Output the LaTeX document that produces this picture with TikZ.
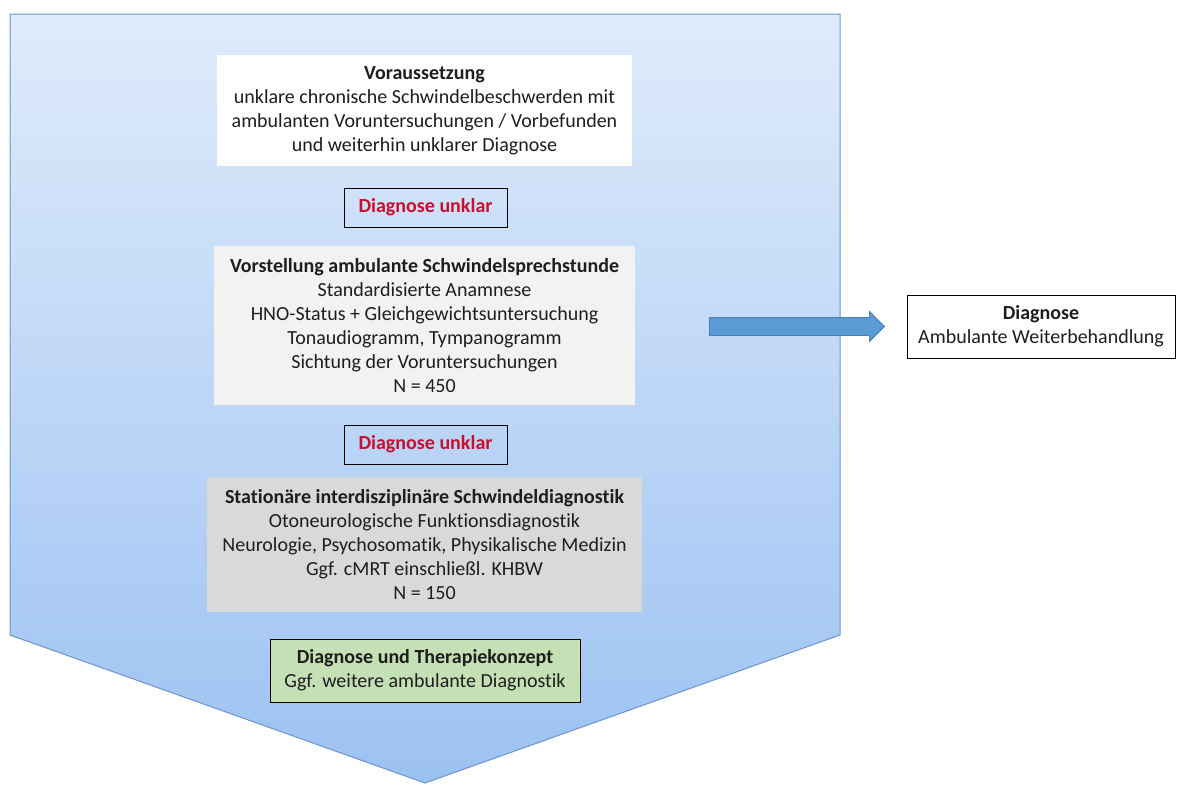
\documentclass[tikz,border=0pt]{standalone}
\usepackage{fontspec}
\setmainfont{Carlito}[Ligatures=NoCommon]
\definecolor{bgtop}{HTML}{DFEBFB}
\definecolor{bgbot}{HTML}{9CC2F2}
\definecolor{bgline}{HTML}{6F95C6}
\definecolor{txt}{HTML}{1E1E1E}
\definecolor{redtxt}{HTML}{C8102E}
\definecolor{boxgrayA}{HTML}{F2F2F2}
\definecolor{boxgrayB}{HTML}{D9D9D9}
\definecolor{boxgreen}{HTML}{C5E0B4}
\definecolor{arrowfill}{HTML}{5B9BD5}
\definecolor{arrowline}{HTML}{4A7EBB}
\tikzset{
  txtbox/.style={rectangle, inner sep=0pt, align=center, text=txt,
    font=\fontsize{20}{24}\selectfont},
  unklarbox/.style={txtbox, draw=black, line width=1pt, text=redtxt,
    font=\fontsize{20}{24}\selectfont\bfseries,
    minimum width=163, minimum height=39},
}
\begin{document}
\begin{tikzpicture}[x=1pt,y=-1pt]
\useasboundingbox (0,0) rectangle (1180,785);
% big pentagon
\path[top color=bgtop, bottom color=bgbot, draw=bgline, line width=1pt]
  (10,14) -- (840,14) -- (840,635) -- (425,783) -- (10,635) -- cycle;
% boxes
\node[txtbox, fill=white, minimum width=415, minimum height=111] (vor) at (424.5,110.5)
  {\textbf{Voraussetzung}\\unklare chronische Schwindelbeschwerden mit\\ambulanten Voruntersuchungen / Vorbefunden\\und weiterhin unklarer Diagnose};
\node[unklarbox] (u1) at (425.5,207.5) {Diagnose unklar};
\node[txtbox, fill=boxgrayA, minimum width=421, minimum height=159] (amb) at (424.5,325.5)
  {\textbf{Vorstellung ambulante Schwindelsprechstunde}\\Standardisierte Anamnese\\HNO-Status + Gleichgewichtsuntersuchung\\Tonaudiogramm, Tympanogramm\\Sichtung der Voruntersuchungen\\N = 450};
\node[unklarbox] (u2) at (425.5,444.5) {Diagnose unklar};
\node[txtbox, fill=boxgrayB, minimum width=435, minimum height=135] (stat) at (424.5,544.5)
  {\textbf{Stationäre interdisziplinäre Schwindeldiagnostik}\\Otoneurologische Funktionsdiagnostik\\Neurologie, Psychosomatik, Physikalische Medizin\\Ggf. cMRT einschließl. KHBW\\N = 150};
\node[txtbox, fill=boxgreen, draw=black, line width=1pt, minimum width=310, minimum height=63] (ther) at (425,670.5)
  {\textbf{Diagnose und Therapiekonzept}\\Ggf. weitere ambulante Diagnostik};
\node[txtbox, fill=white, draw=black, line width=1pt, minimum width=268, minimum height=63] (diag) at (1041,326.5)
  {\textbf{Diagnose}\\Ambulante Weiterbehandlung};
% arrow
\coordinate (atip) at ([xshift=-22pt]diag.west);
\coordinate (atail) at ([xshift=-197pt]diag.west);
\path[fill=arrowfill, draw=arrowline, line width=0.8pt]
  ([yshift=-9pt]atail) -- ([xshift=-15pt,yshift=-9pt]atip) -- ([xshift=-15pt,yshift=-15pt]atip)
  -- (atip) -- ([xshift=-15pt,yshift=15pt]atip) -- ([xshift=-15pt,yshift=9pt]atip)
  -- ([yshift=9pt]atail) -- cycle;
\end{tikzpicture}
\end{document}
